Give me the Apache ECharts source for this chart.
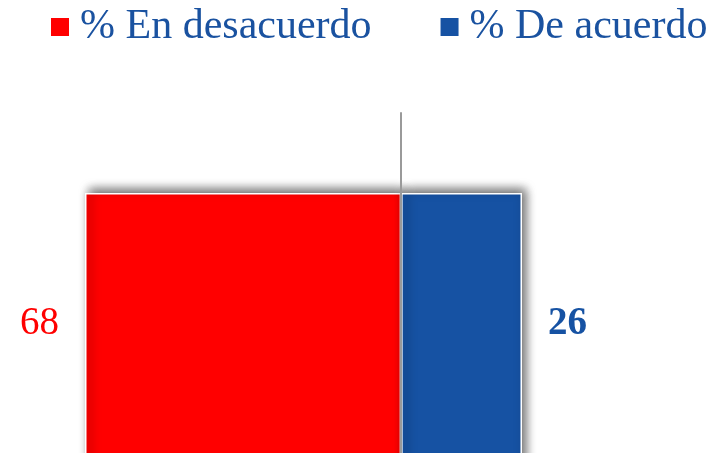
<!DOCTYPE html>
<html><head><meta charset="utf-8">
<script src="https://cdn.jsdelivr.net/npm/echarts@6/dist/echarts.min.js"></script>
<style>html,body{margin:0;padding:0;background:#fff}#c{width:714px;height:453px}</style>
</head><body><div id="c"></div>
<script>
const categories = ['Total'];
const seriesNames = ['% En desacuerdo', '% De acuerdo'];
const desacuerdo = [68];
const acuerdo = [26];
const colors = ['#FF0000', '#1652A3'];
const FONT = 'Liberation Serif';

const chart = echarts.init(document.getElementById('c'));
const shadow = {shadowColor: 'rgba(0,0,0,0.6)', shadowBlur: 10, shadowOffsetX: 4, shadowOffsetY: -4};
chart.setOption({
  animation: false,
  legend: {
    left: 46, top: 1, padding: 5, itemWidth: 18, itemHeight: 18, itemGap: 69,
    icon: 'rect',
    itemStyle: {borderWidth: 0, shadowBlur: 0, shadowOffsetX: 0, shadowOffsetY: 0},
    textStyle: {fontFamily: FONT, fontSize: 42, color: '#1a52a0', padding: [0, 0, 0, 6]},
    data: seriesNames
  },
  grid: {left: 85, right: 192, top: 113, height: 436, outerBoundsMode: 'none', containLabel: false},
  xAxis: {type: 'value', min: -68, max: 26, show: false},
  yAxis: {
    type: 'category', data: categories, z: 5,
    axisLine: {lineStyle: {color: '#9a9a9a', width: 2}},
    axisTick: {show: false}, axisLabel: {show: false}
  },
  series: [
    {
      name: seriesNames[0], type: 'bar', stack: 's', barWidth: 276,
      data: desacuerdo.map(v => -v),
      itemStyle: Object.assign({color: colors[0], borderColor: '#fff', borderWidth: 1.5}, shadow),
      label: {show: true, position: 'left', distance: 26, offset: [0, -7], formatter: p => Math.abs(p.value),
        fontFamily: FONT, fontSize: 39, color: colors[0]}
    },
    {
      name: seriesNames[1], type: 'bar', stack: 's', barWidth: 276,
      data: acuerdo,
      itemStyle: Object.assign({color: colors[1], borderColor: '#fff', borderWidth: 1.5}, shadow),
      label: {show: true, position: 'right', distance: 26, offset: [0, -7], formatter: p => p.value,
        fontFamily: FONT, fontSize: 39, fontWeight: 'bold', color: colors[1]}
    }
  ]
});
</script></body></html>
